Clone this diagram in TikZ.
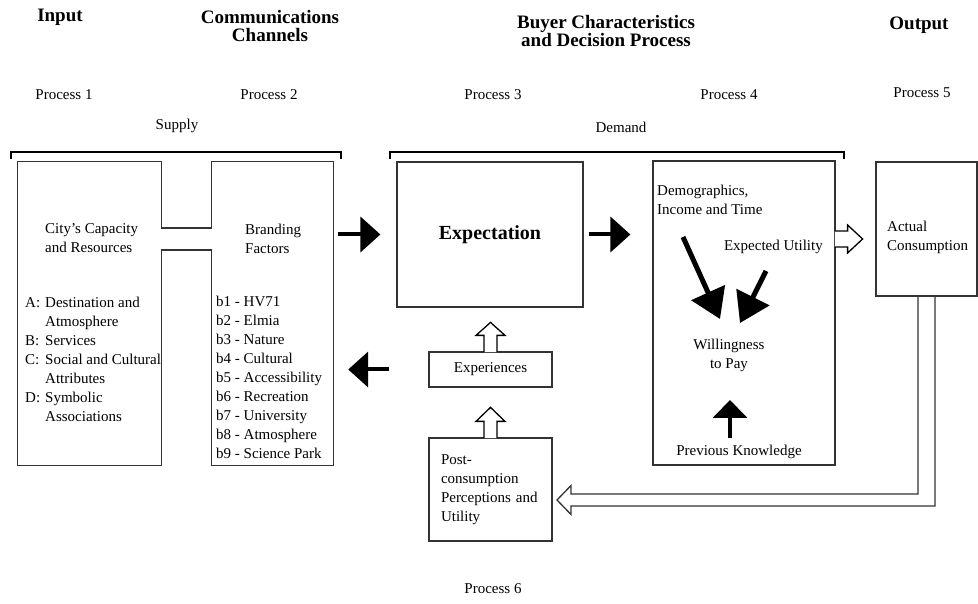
\documentclass[tikz,border=0pt]{standalone}
\usepackage{fontspec}
\setmainfont{Liberation Serif}
\usetikzlibrary{arrows.meta}
\tikzset{
  pics/hollowarr/.style args={#1/#2/#3/#4}{code={
    \draw[hollow] (0,-#3) -- (#1-#2,-#3) -- (#1-#2,-#4) -- (#1,0) -- (#1-#2,#4) -- (#1-#2,#3) -- (0,#3);
  }}
}
\begin{document}
\begin{tikzpicture}[x=1pt,y=1pt,
    box/.style={draw=black!80, line width=1.2pt},
    txt/.style={inner sep=0pt, font=\fontsize{15}{19}\selectfont},
    head/.style={inner sep=0pt, align=center, font=\fontsize{19}{18.5}\selectfont\bfseries},
    blk/.style={line width=4pt, -{Triangle[length=20pt,width=35pt]}},
    blkin/.style={line width=5pt, -{Triangle[length=29pt,width=36pt]}},
    hollow/.style={draw=black, line width=1.3pt, fill=white, line join=miter},
    hollowline/.style={draw=black!80, line width=1.3pt, line join=miter},
    bracket/.style={line width=2.5pt}]
  \useasboundingbox (0,0) rectangle (978,603);

  % headings
  \node[head] (input) at (60,586) {Input};
  \node[head] (comm) at (270,577) {Communications\\Channels};
  \node[head] (buyer) at (606,572) {Buyer Characteristics\\and Decision Process};
  \node[head] (output) at (919,578) {Output};

  \node[txt] (p1) at (64,508) {Process 1};
  \node[txt] (p2) at (269,508) {Process 2};
  \node[txt] (p3) at (493,508) {Process 3};
  \node[txt] (p4) at (729,508) {Process 4};
  \node[txt] (p5) at (922,510) {Process 5};
  \node[txt] (p6) at (493,14) {Process 6};

  \node[txt] (supply) at (177,477) {Supply};
  \node[txt] (demand) at (621,476) {Demand};
  \draw[bracket] (11,444) -- (11,451) -- (341,451) -- (341,444);
  \draw[bracket] (390,444) -- (390,451) -- (844,451) -- (844,444);

  % supply side
  \node[minimum width=143pt, minimum height=303pt] (city) at (89.5,289.5) {};
  \node[minimum width=121pt, minimum height=303pt] (brand) at (272.5,289.5) {};
  \draw[box] (city.north west) -- (city.north east) -- (city.east |- 0,375)
    -- (brand.west |- 0,375) -- (brand.north west) -- (brand.north east)
    -- (brand.south east) -- (brand.south west) -- (brand.west |- 0,353)
    -- (city.east |- 0,353) -- (city.south east) -- (city.south west) -- cycle;

  \node[txt, anchor=west, align=left] (citytitle) at (45,364.5) {City's Capacity\\and Resources};
  \node[txt, anchor=west, align=left] (citylist) at (25,244) {%
    \makebox[20pt][l]{A:}Destination and\\
    \makebox[20pt][l]{}Atmosphere\\
    \makebox[20pt][l]{B:}Services\\
    \makebox[20pt][l]{C:}Social and Cultural\\
    \makebox[20pt][l]{}Attributes\\
    \makebox[20pt][l]{D:}Symbolic\\
    \makebox[20pt][l]{}Associations};
  \node[txt, anchor=west, align=left] (brandtitle) at (245,364.5) {Branding\\Factors};
  \node[txt, anchor=west, align=left] (brandlist) at (216,226) {b1 - HV71\\b2 - Elmia\\b3 - Nature\\b4 - Cultural\\b5 - Accessibility\\b6 - Recreation\\b7 - University\\b8 - Atmosphere\\b9 - Science Park};

  % demand side
  \node[box, minimum width=186pt, minimum height=145pt, inner sep=0pt,
        font=\fontsize{20}{20}\selectfont\bfseries] (expect) at (490,368.5) {Expectation};
  \node[box, txt, minimum width=123pt, minimum height=35pt] (exper) at (490.5,233.5) {Experiences};
  \node[box, txt, minimum width=123pt, minimum height=103pt, text width=99pt, align=left] (post) at (490.5,113.5)
    {Post-\\consumption\\Perceptions and\\Utility};
  \node[box, minimum width=182pt, minimum height=304pt] (decide) at (744,290) {};
  \draw[hollowline] (926.5,307) ++(-8.5,0) |- (571,109) -- (571,117.5) -- (557,103)
    -- (571,88.5) -- (571,97) -| (935,307);
  \node[box, minimum width=101pt, minimum height=134pt] (actual) at (926.5,374) {};
  \node[txt, anchor=west, align=left] (actualtxt) at (887,366) {Actual\\Consumption};

  \node[txt, anchor=west, align=left] (demo) at (657,403.5) {Demographics,\\Income and Time};
  \node[txt, anchor=east] (util) at (823,356) {Expected Utility};
  \node[txt, align=center] (wtp) at (729,248) {Willingness\\to Pay};
  \node[txt] (know) at (739,151) {Previous Knowledge};

  \coordinate (d1s) at (683,366);
  \coordinate (d1e) at (720,284);
  \coordinate (d2s) at (766,332);
  \coordinate (d2e) at (740,280);
  \coordinate (d3s) at (730,165);
  \coordinate (d3e) at (730,203);
  \draw[blkin] (d1s) -- (d1e);
  \draw[blkin] (d2s) -- (d2e);
  \draw[line width=4pt, -{Triangle[length=18pt,width=34pt]}] (d3s) -- (d3e);

  % black arrows between boxes
  \draw[blk, shorten <=5pt, shorten >=16pt] (brand.east |- expect) -- (expect.west);
  \draw[blk, shorten <=5pt, shorten >=22pt] (expect.east) -- (expect.east -| decide.west);
  \draw[blk, shorten <=39pt, shorten >=15pt] (exper.west) -- (exper.west -| brand.east);

  % hollow arrows
  \pic[rotate=90] at ([yshift=-0.8pt]exper.north) {hollowarr={29.8/13/6.5/14.5}};
  \pic[rotate=90] at ([yshift=-0.8pt]post.north) {hollowarr={30.8/14/6.5/14.5}};
  \pic at ([xshift=-0.8pt]decide.east |- 0,364) {hollowarr={27.8/15/8/14}};
\end{tikzpicture}
\end{document}
